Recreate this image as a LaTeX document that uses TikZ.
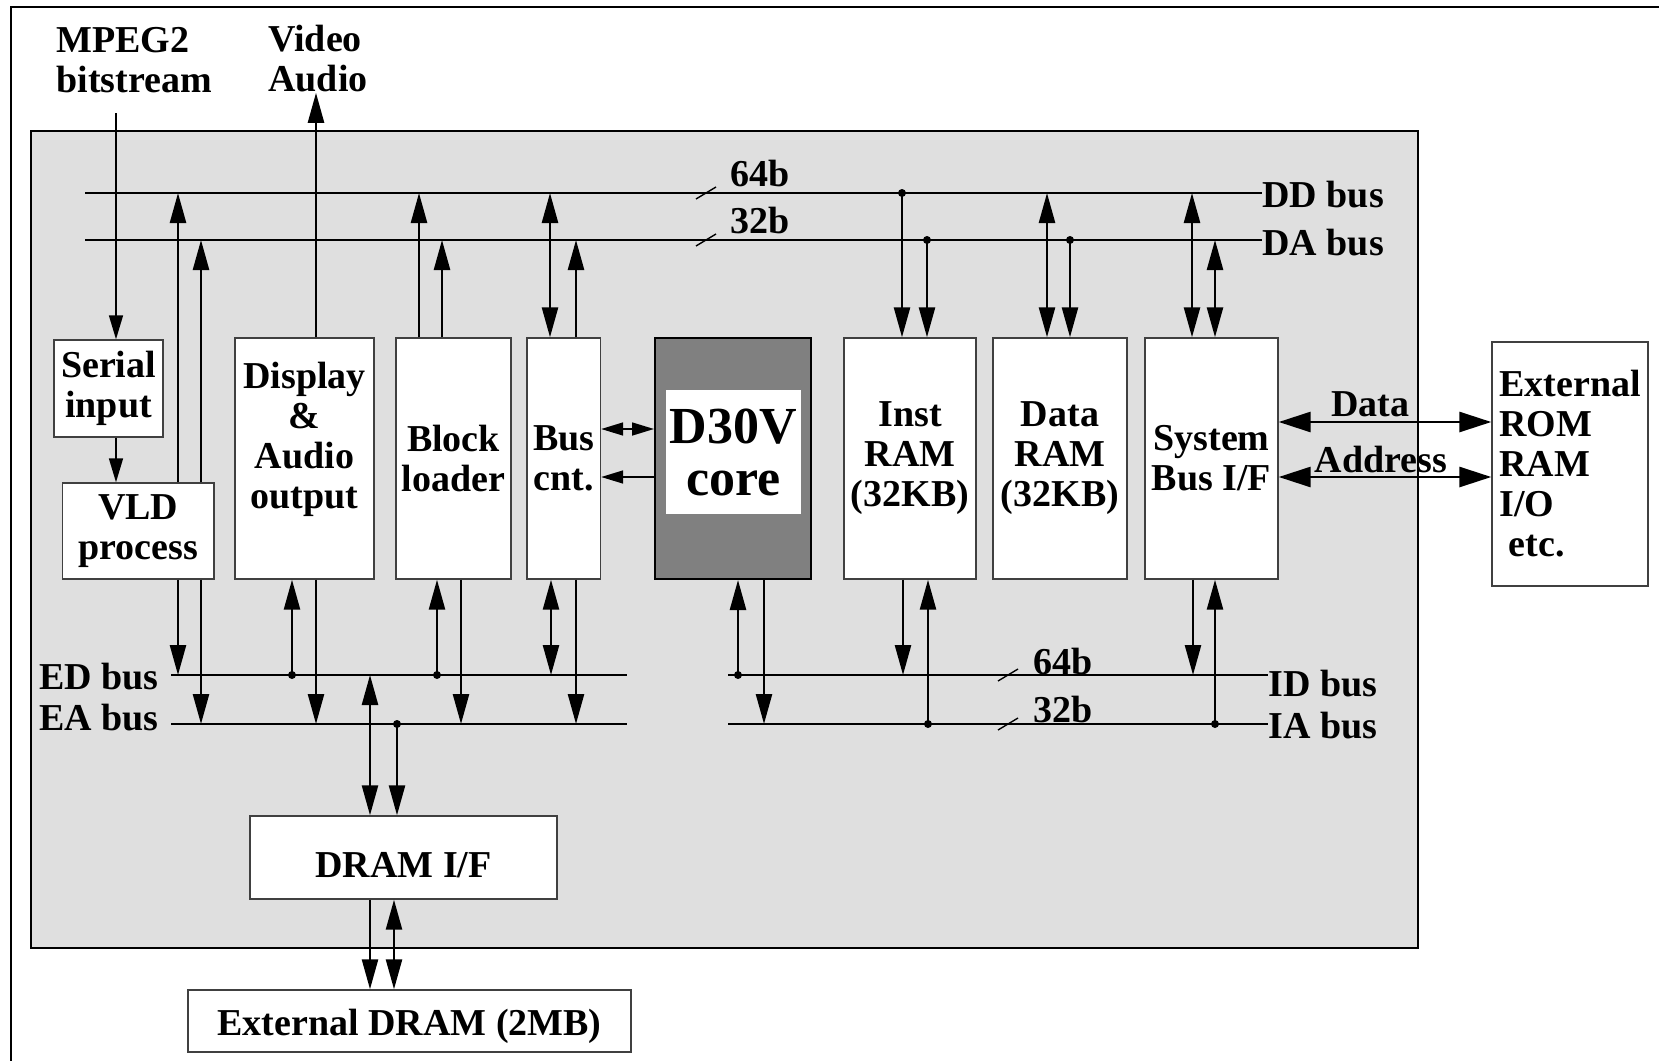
\documentclass[tikz,border=0pt]{standalone}
\usepackage{fontspec}
\setmainfont{Liberation Serif}
\usetikzlibrary{arrows.meta}
\tikzset{>={Triangle[length=15pt,width=8pt]}}
\definecolor{chipfill}{gray}{0.875}
\newcommand{\lbl}{\fontsize{19pt}{20pt}\selectfont\bfseries}
\newcommand{\corelbl}{\fontsize{26pt}{26pt}\selectfont\bfseries}

\begin{document}
\begin{tikzpicture}[x=0.5pt,y=-0.5pt,
  every node/.style={font=\lbl,inner sep=0pt},
  box/.style={draw=black!75,line width=0.7pt,fill=white,align=center},
  bus/.style={line width=1.4pt},
  conn/.style={line width=1.25pt},
  feed/.style={line width=0.8pt,>={Triangle[length=12pt,width=7pt]}},
  link/.style={line width=0.8pt,>={Triangle[length=11pt,width=6.5pt]}},
  port/.style={line width=1.4pt,>={Triangle[length=16pt,width=10pt]}}]
  \useasboundingbox (0,0) rectangle (1659,1060);
  \draw[line width=0.75pt] (11,1100) -- (11,7) -- (1700,7);
  \draw[line width=1.4pt,fill=chipfill] (31,131) rectangle (1418,948);
  % outside world
  \node[anchor=west,align=left] (bs) at (56,60) {MPEG2\\bitstream};
  \node[anchor=west,align=left] (av) at (268,59) {Video\\Audio};
  \coordinate (bsin) at (116,113);
  % blocks
  \node[box,minimum width=54.5pt,minimum height=48.5pt] (serial) at (108.5,388.5) {Serial\\input};
  \node[box,minimum width=75.75pt,minimum height=48pt] (vld) at (138.25,531) {VLD\\process};
  \node[box,minimum width=69.5pt,minimum height=120.5pt] (disp) at (304.5,458.5) {};
  \node[align=center] (displbl) at (304.5,439) {Display\\\&\\Audio\\output};
  \node[box,minimum width=57.5pt,minimum height=120.5pt] (block) at (453.5,458.5) {Block\\loader};
  \node[box,minimum width=36.75pt,minimum height=120.5pt] (buscnt) at (563.75,458.5) {Bus\\cnt.};
  \node[draw=black,line width=1pt,fill=gray,minimum width=78pt,minimum height=120.5pt] (core) at (733,458.5) {};
  \node[fill=white,align=center,font=\corelbl,minimum width=67.75pt,minimum height=62pt] (corein) at (733.25,452) {D30V\\core};
  \node[box,minimum width=66pt,minimum height=120.5pt] (inst) at (910,458.5) {Inst\\RAM\\(32KB)};
  \node[box,minimum width=67pt,minimum height=120.5pt] (data) at (1060,458.5) {Data\\RAM\\(32KB)};
  \node[box,minimum width=66.5pt,minimum height=120.5pt] (sysbus) at (1211.5,458.5) {System\\Bus I/F};
  \node[box,align=left,minimum width=78pt,minimum height=122pt] (ext) at (1570,464) {External\\ROM\\RAM\\I/O\\\ etc.};
  \node[box,text height=20pt,minimum width=153.5pt,minimum height=41.5pt] (dram) at (403.5,857.5) {DRAM I/F};
  \node[box,text height=19pt,minimum width=221.5pt,minimum height=31pt] (extdram) at (409.5,1021) {External DRAM (2MB)};
  % buses
  \coordinate (dd) at (85,193);
  \coordinate (da) at (85,240);
  \coordinate (ed) at (171,675);
  \coordinate (ea) at (171,724);
  \coordinate (id) at (728,675);
  \coordinate (ia) at (728,724);
  \node[anchor=west] (ddlbl) at (1262,195) {DD bus};
  \node[anchor=west] (dalbl) at (1262,243) {DA bus};
  \node[anchor=west] (idlbl) at (1268,684) {ID bus};
  \node[anchor=west] (ialbl) at (1268,726) {IA bus};
  \node[anchor=east] (edlbl) at (159,677) {ED bus};
  \node[anchor=east] (ealbl) at (159,718) {EA bus};
  \draw[bus] (dd) -- (dd -| ddlbl.west);
  \draw[bus] (da) -- (da -| dalbl.west);
  \draw[bus] (id) -- (id -| idlbl.west);
  \draw[bus] (ia) -- (ia -| ialbl.west);
  \draw[bus] (ed) -- (627,0 |- ed);
  \draw[bus] (ea) -- (627,0 |- ea);
  % bus widths
  \node[anchor=west] (ddw) at (730,173) {64b};
  \node[anchor=west] (daw) at (730,220) {32b};
  \node[anchor=west] (idw) at (1033,661) {64b};
  \node[anchor=west] (iaw) at (1033,709) {32b};
  \foreach \x/\y in {706/193,706/240,1008/675,1008/724}
    \draw[line width=0.7pt] (\x,\y) ++(-10,6) -- ++(20,-12);
  % stream input
  \draw[feed,->] (bsin) -- (serial.north -| bsin);
  \draw[feed,->] (serial.south -| bsin) -- (vld.north -| bsin);
  % DD / DA bus
  \draw[conn,->] (vld.north -| 178,0) -- (178,0 |- dd);
  \draw[conn,->] (vld.north -| 201,0) -- (201,0 |- da);
  \draw[conn,->] (disp.north -| 316,0) -- (316,0 |- av.south);
  \draw[conn,->] (block.north -| 419,0) -- (419,0 |- dd);
  \draw[conn,->] (block.north -| 442,0) -- (442,0 |- da);
  \draw[conn,<->] (buscnt.north -| 550,0) -- (550,0 |- dd);
  \draw[conn,->] (buscnt.north -| 576,0) -- (576,0 |- da);
  \draw[conn,->] (902,0 |- dd) -- (inst.north -| 902,0);
  \draw[conn,->] (927,0 |- da) -- (inst.north -| 927,0);
  \draw[conn,<->] (1047,0 |- dd) -- (data.north -| 1047,0);
  \draw[conn,->] (1070,0 |- da) -- (data.north -| 1070,0);
  \draw[conn,<->] (1192,0 |- dd) -- (sysbus.north -| 1192,0);
  \draw[conn,<->] (1215,0 |- da) -- (sysbus.north -| 1215,0);
  % core to bus controller
  \draw[link,<->] (buscnt.east |- 0,429) -- (core.west |- 0,429);
  \draw[link,->] (core.west |- 0,477) -- (buscnt.east |- 0,477);
  % system bus
  \draw[port,<->] (sysbus.east |- 0,422) -- node[pos=0.43,above=2pt] (datalbl) {Data} (ext.west |- 0,422);
  \draw[port,<->] (sysbus.east |- 0,477) -- node[pos=0.48,above=1.5pt] (addrlbl) {Address} (ext.west |- 0,477);
  % ED / EA and ID / IA bus
  \draw[conn,->] (vld.south -| 178,0) -- (178,0 |- ed);
  \draw[conn,->] (vld.south -| 201,0) -- (201,0 |- ea);
  \draw[conn,->] (292,0 |- ed) -- (disp.south -| 292,0);
  \draw[conn,->] (disp.south -| 316,0) -- (316,0 |- ea);
  \draw[conn,->] (437,0 |- ed) -- (block.south -| 437,0);
  \draw[conn,->] (block.south -| 461,0) -- (461,0 |- ea);
  \draw[conn,<->] (buscnt.south -| 551,0) -- (551,0 |- ed);
  \draw[conn,->] (buscnt.south -| 576,0) -- (576,0 |- ea);
  \draw[conn,->] (738,0 |- id) -- (core.south -| 738,0);
  \draw[conn,->] (core.south -| 764,0) -- (764,0 |- ia);
  \draw[conn,->] (inst.south -| 903,0) -- (903,0 |- id);
  \draw[conn,->] (928,0 |- ia) -- (inst.south -| 928,0);
  \draw[conn,->] (sysbus.south -| 1193,0) -- (1193,0 |- id);
  \draw[conn,->] (1215,0 |- ia) -- (sysbus.south -| 1215,0);
  % DRAM
  \draw[conn,<->] (370,0 |- ed) -- (dram.north -| 370,0);
  \draw[conn,->] (397,0 |- ea) -- (dram.north -| 397,0);
  \draw[conn,->] (dram.south -| 370,0) -- (extdram.north -| 370,0);
  \draw[conn,<->] (dram.south -| 394,0) -- (extdram.north -| 394,0);
  % taps
  \foreach \x/\b in {902/dd,927/da,1070/da,292/ed,437/ed,397/ea,738/id,928/ia,1215/ia}
    \fill (\x,0 |- \b) circle (4);
\end{tikzpicture}
\end{document}
